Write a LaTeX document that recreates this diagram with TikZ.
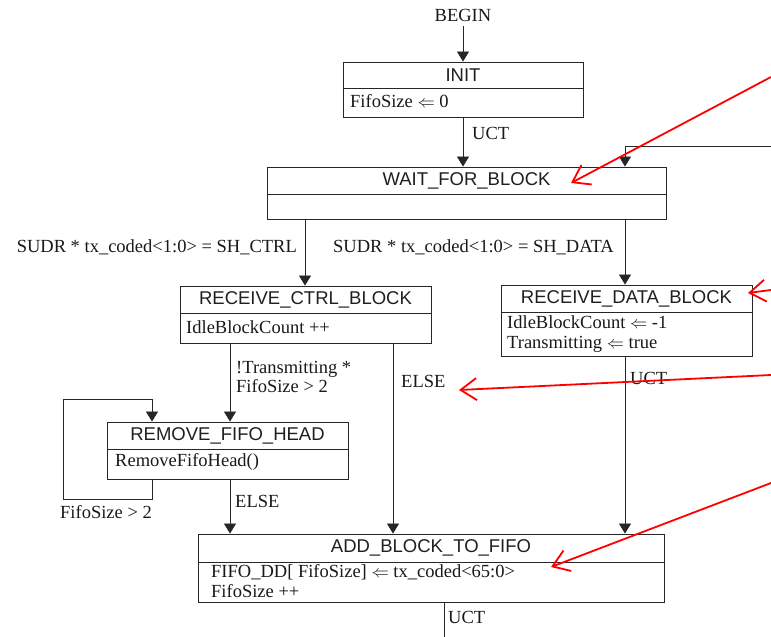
\documentclass[tikz,border=0pt]{standalone}
\usepackage{fontspec}
\setmainfont{Liberation Serif}
\setsansfont{Liberation Sans}
\usetikzlibrary{arrows.meta}
\newcommand{\stbox}[7]{%
  \node[sbox, minimum width={(#4)-(#2)}, minimum height={(#5)-(#3)}] (#1) at ({((#2)+(#4))/2},{((#3)+(#5))/2}) {};
  \draw[sline] (#1.west |- 0,#6) -- (#1.east |- 0,#6);
  \node[ttl] (#1t) at ({((#2)+(#4))/2},{((#3)+(#6))/2}) {#7};
}
\begin{document}
\begin{tikzpicture}[x=1pt,y=-1pt,
  sbox/.style={draw=black!85,line width=0.9pt,inner sep=0pt,rectangle},
  sline/.style={draw=black!85,line width=0.9pt},
  ttl/.style={font=\sffamily\fontsize{18.5}{20}\selectfont,text=black!88,inner sep=0pt},
  body/.style={font=\fontsize{18.5}{19.5}\selectfont,text=black!90,inner sep=0pt,align=left,anchor=west},
  lbl/.style={font=\fontsize{18.5}{18.5}\selectfont,text=black!90,inner sep=0pt,align=left},
  conn/.style={draw=black!85,line width=0.8pt},
  arr/.style={conn,-{Triangle[length=10pt,width=12pt]}},
  redarr/.style={draw=red,line width=1.8pt,-{Straight Barb[length=16pt,width=22pt]}}]
\useasboundingbox (0,0) rectangle (771,637);

% states
\stbox{init}{343}{62}{583}{117}{88}{INIT}
\stbox{wfb}{267}{167}{666}{219}{194}{WAIT\_FOR\_BLOCK}
\stbox{rcb}{180}{286}{431}{343}{313}{RECEIVE\_CTRL\_BLOCK}
\stbox{rdb}{501}{285}{752}{356}{312}{RECEIVE\_DATA\_BLOCK}
\stbox{rfh}{107}{422}{348}{479}{449}{REMOVE\_FIFO\_HEAD}
\stbox{abf}{198}{534}{664}{602}{562}{ADD\_BLOCK\_TO\_FIFO}

% bodies
\node[body] (initb) at (350,101) {FifoSize $\Leftarrow$ 0};
\node[body] (rcbb) at (186,327) {IdleBlockCount ++};
\node[body] (rdbb) at (507,334) {IdleBlockCount $\Leftarrow$ -1\\Transmitting $\Leftarrow$ true};
\node[body] (rfhb) at (115,462) {RemoveFifoHead()};
\node[body] (abfb) at (211,581) {FIFO\_DD[ FifoSize] $\Leftarrow$ tx\_coded<65:0>\\FifoSize ++};

% x positions
\coordinate (x463) at (463,0);
\coordinate (x305) at (305,0);
\coordinate (x625) at (625,0);
\coordinate (x230) at (230,0);
\coordinate (x393) at (393,0);
\coordinate (x152) at (152,0);
\coordinate (x444) at (444,0);

% begin
\node[lbl] (begin) at (463,15) {BEGIN};
\draw[arr] (begin.south -| x463) ++(0,5) -- (init.north -| x463);
\draw[arr] (init.south -| x463) -- (wfb.north -| x463);
\node[lbl,anchor=west] (uct1) at (472,133) {UCT};

% return path into WAIT_FOR_BLOCK from the right
\coordinate (rin) at (771,146);
\draw[arr] (rin) -| (wfb.north -| x625);

% WAIT -> RCB / RDB
\draw[arr] (wfb.south -| x305) -- (rcb.north -| x305);
\node[lbl,anchor=east] (c1) at (297,247) {SUDR * tx\_coded<1:0> = SH\_CTRL};
\draw[arr] (wfb.south -| x625) -- (rdb.north -| x625);
\node[lbl,anchor=west] (c2) at (333,247) {SUDR * tx\_coded<1:0> = SH\_DATA};

% RCB -> RFH / ABF
\draw[arr] (rcb.south -| x230) -- (rfh.north -| x230);
\node[lbl,anchor=west] (c3) at (236,377) {!Transmitting *\\FifoSize > 2};
\draw[arr] (rcb.south -| x393) -- (abf.north -| x393);
\node[lbl,anchor=west] (c4) at (401,381) {ELSE};

% RDB -> ABF
\draw[arr] (rdb.south -| x625) -- (abf.north -| x625);
\node[lbl,anchor=west] (c5) at (630,378) {UCT};

% RFH self loop and -> ABF
\coordinate (lpA) at (63,499);
\coordinate (lpB) at (63,399);
\draw[arr] (rfh.south -| x152) |- (lpA) -- (lpB) -| (rfh.north -| x152);
\node[lbl,anchor=west] (c6) at (60,512) {FifoSize > 2};
\draw[arr] (rfh.south -| x230) -- (abf.north -| x230);
\node[lbl,anchor=west] (c7) at (235,501) {ELSE};

% ABF out
\coordinate (aout) at (444,637);
\draw[conn] (abf.south -| aout) -- (aout);
\node[lbl,anchor=west] (c8) at (448,617) {UCT};

% red annotation arrows
\coordinate (r1s) at (771,77);   \coordinate (r1e) at (571,183);
\coordinate (r2s) at (771,290);  \coordinate (r2e) at (748,293);
\coordinate (r3s) at (771,375);  \coordinate (r3e) at (459,390);
\coordinate (r4s) at (771,483);  \coordinate (r4e) at (551,567);
\draw[redarr] (r1s) -- (r1e);
\draw[redarr] (r2s) -- (r2e);
\draw[redarr] (r3s) -- (r3e);
\draw[redarr] (r4s) -- (r4e);
\end{tikzpicture}
\end{document}
